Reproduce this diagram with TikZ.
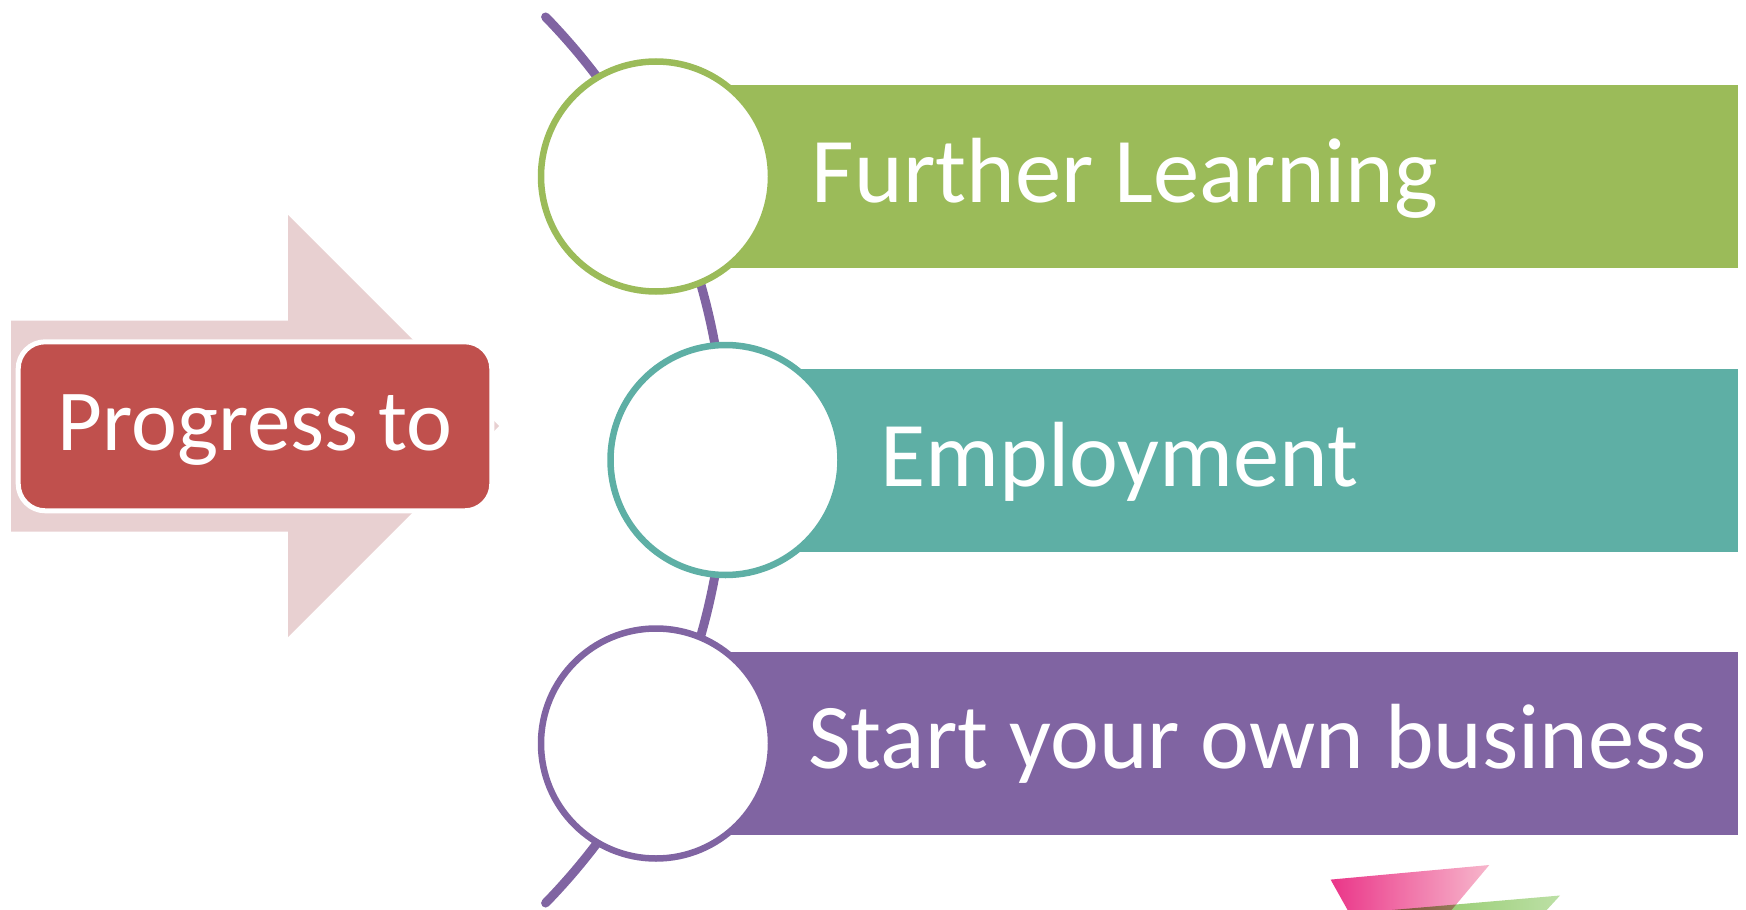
\documentclass[tikz,border=0pt]{standalone}
\usepackage{fontspec}
\setmainfont{Carlito}
\usetikzlibrary{positioning}
\definecolor{progred}{HTML}{C0504D}
\definecolor{arrowpink}{HTML}{E8D0D1}
\definecolor{learngreen}{HTML}{9BBB59}
\definecolor{jobteal}{HTML}{5EAFA5}
\definecolor{bizpurple}{HTML}{8064A2}
\definecolor{deeppink}{HTML}{E8207C}
\definecolor{palepink}{HTML}{F6AFC6}
\definecolor{leafgreen}{HTML}{7DBF4E}
\definecolor{palegreen}{HTML}{B5DC9C}
\tikzset{
every picture/.style={x=1pt,y=-1pt},
%%%%%%%%%% Node styles
ring/.style={circle,draw=#1,fill=white,line width=6.5pt,
             minimum size=230pt,inner sep=0pt},
bar/.style={fill=#1,anchor=west,minimum height=183pt,
            inner sep=0pt,outer sep=0pt},
bartext/.style={text=white,inner sep=0pt,
                font=\fontsize{92.6}{111}\selectfont},
progbox/.style={rectangle,rounded corners=27pt,fill=progred,draw=white,
                line width=5pt,minimum width=473.6pt,minimum height=169pt,
                text=white,inner sep=0pt,text height=55pt,text depth=7pt,
                font=\fontsize{87}{104}\selectfont},
%%%% line styles
timeline/.style={draw=bizpurple,line width=9pt,line cap=round},
sliver/.style={opacity=0.9}
}
\begin{document}
\begin{tikzpicture}
\useasboundingbox (0,0) rectangle (1746,910);
%%big arrow behind the box
\fill[arrowpink] (11,320.7) -- (288,320.7) -- (288,215) -- (499,426)
	-- (288,637) -- (288,531.7) -- (11,531.7) -- cycle;
\node[progbox] (prog) at (255,426.3) {Progress to};
%%circle centres
\coordinate (arcc) at (90,460);
\coordinate (p1) at (656,176.5);
\coordinate (p2) at (725.5,460);
\coordinate (p3) at (656,743.5);
%%purple arc through the circles
\draw[timeline] ([shift={(-44.2:635.5)}]arcc) arc[start angle=-44.2,end angle=44.2,radius=635.5];
%%bars
\node[bar=learngreen,minimum width=1082pt] (b1) at (p1) {};
\node[bar=jobteal,minimum width=1012.5pt] (b2) at (p2) {};
\node[bar=bizpurple,minimum width=1082pt] (b3) at (p3) {};
%%circles
\node[ring=learngreen] (c1) at (p1) {};
\node[ring=jobteal] (c2) at (p2) {};
\node[ring=bizpurple] (c3) at (p3) {};
%%labels
\node[bartext,right=37.5pt of c1,anchor=base west,yshift=-26pt] (t1) {Further Learning};
\node[bartext,right=36.5pt of c2,anchor=base west,yshift=-26.6pt] (t2) {Employment};
\node[bartext,right=34pt of c3,anchor=base west,yshift=-24.8pt] (t3) {Start your own business};
%%slivers bottom right
\shade[sliver,left color=deeppink,right color=palepink]
	(1330.6,879.6) -- (1489.3,865) -- (1451.5,910) -- (1347.6,910) -- cycle;
\shade[sliver,blend mode=multiply,left color=leafgreen,right color=palegreen]
	(1392,910) -- (1560,895.5) -- (1546.7,910) -- cycle;
\end{tikzpicture}
\end{document}
